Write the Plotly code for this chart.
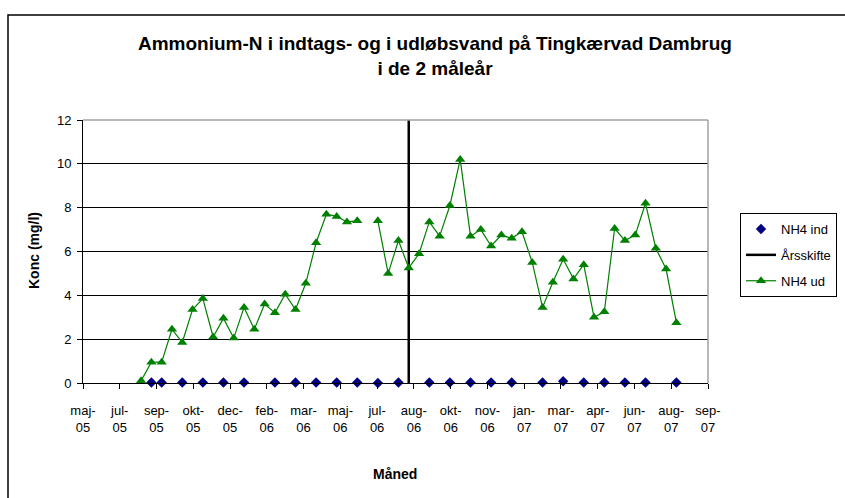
import plotly.graph_objects as go

# NH4 ud (outlet) - biweekly samples
ud_dates = ["2005-08-15", "2005-08-29", "2005-09-12", "2005-09-26", "2005-10-10", "2005-10-24",
            "2005-11-07", "2005-11-21", "2005-12-05", "2005-12-19", "2006-01-02", "2006-01-16",
            "2006-01-30", "2006-02-13", "2006-02-27", "2006-03-13", "2006-03-27", "2006-04-10",
            "2006-04-24", "2006-05-08", "2006-05-22", "2006-06-05", "2006-06-19", "2006-07-03",
            "2006-07-17", "2006-07-31", "2006-08-14", "2006-08-28", "2006-09-11", "2006-09-25",
            "2006-10-09", "2006-10-23", "2006-11-06", "2006-11-20", "2006-12-04", "2006-12-18",
            "2007-01-01", "2007-01-15", "2007-01-29", "2007-02-12", "2007-02-26", "2007-03-12",
            "2007-03-26", "2007-04-09", "2007-04-23", "2007-05-07", "2007-05-21", "2007-06-04",
            "2007-06-18", "2007-07-02", "2007-07-16", "2007-07-30", "2007-08-13"]
ud_values = [0.1, 0.95, 0.95, 2.45, 1.85, 3.35, 3.85, 2.1, 2.95, 2.05, 3.45, 2.45,
             3.6, 3.2, 4.05, 3.35, 4.55, 6.4, 7.7, 7.6, 7.35, 7.4, None, 7.4,
             5.0, 6.5, 5.25, 5.9, 7.35, 6.7, 8.1, 10.2, 6.7, 7.0, 6.25, 6.75,
             6.6, 6.9, 5.5, 3.45, 4.6, 5.65, 4.75, 5.4, 3.0, 3.25, 7.05, 6.5,
             6.75, 8.2, 6.15, 5.2, 2.75]

# NH4 ind (intake)
ind_dates = ["2005-08-29", "2005-09-12", "2005-10-10", "2005-11-07", "2005-12-05", "2006-01-02",
             "2006-02-13", "2006-03-13", "2006-04-10", "2006-05-08", "2006-06-05", "2006-07-03",
             "2006-07-31", "2006-09-11", "2006-10-09", "2006-11-06", "2006-12-04", "2007-01-01",
             "2007-02-12", "2007-03-12", "2007-04-09", "2007-05-07", "2007-06-04", "2007-07-02",
             "2007-08-13"]
ind_values = [0.02, 0.02, 0.02, 0.02, 0.02, 0.02, 0.02, 0.02, 0.02, 0.02, 0.02, 0.0,
              0.02, 0.02, 0.02, 0.02, 0.02, 0.02, 0.02, 0.08, 0.02, 0.02, 0.02, 0.02,
              0.02]

# Årsskifte (year change)
aar_dates = ["2006-08-14", "2006-08-14"]
aar_values = [0, 12]

tick_dates = ["2005-05-28", "2005-07-17", "2005-09-05", "2005-10-25", "2005-12-14", "2006-02-02",
              "2006-03-24", "2006-05-13", "2006-07-02", "2006-08-21", "2006-10-10", "2006-11-29",
              "2007-01-18", "2007-03-09", "2007-04-28", "2007-06-17", "2007-08-06", "2007-09-25"]
tick_labels = ["maj-<br>05", "jul-<br>05", "sep-<br>05", "okt-<br>05", "dec-<br>05", "feb-<br>06",
               "mar-<br>06", "maj-<br>06", "jul-<br>06", "aug-<br>06", "okt-<br>06", "nov-<br>06",
               "jan-<br>07", "mar-<br>07", "apr-<br>07", "jun-<br>07", "aug-<br>07", "sep-<br>07"]

FONT = "Liberation Sans, Arial, sans-serif"

# plot area at page px x 83..708, y 120..383
fig = go.Figure()
fig.add_trace(go.Scatter(x=ind_dates, y=ind_values, mode="markers", name="NH4 ind",
                         legendgroup="a",
                         marker=dict(symbol="diamond", size=8, color="#000080"),
                         cliponaxis=False))
fig.add_trace(go.Scatter(x=aar_dates, y=aar_values, mode="lines", name="Årsskifte",
                         legendgroup="b",
                         line=dict(color="black", width=2.5)))
fig.add_trace(go.Scatter(x=ud_dates, y=ud_values, mode="lines+markers", name="NH4 ud",
                         legendgroup="c", connectgaps=False,
                         line=dict(color="#008000", width=1.2),
                         marker=dict(symbol="triangle-up", size=9, color="#008000"),
                         cliponaxis=False))

fig.update_layout(
    width=845, height=498,
    margin=dict(l=83, r=137, t=120, b=115, autoexpand=False),
    paper_bgcolor="white", plot_bgcolor="white",
    font=dict(family=FONT, size=13, color="black"),
    showlegend=True,
    legend=dict(x=(740 - 83) / 625, y=(383 - 213) / 263, xanchor="left", yanchor="top",
                bordercolor="black", borderwidth=1, bgcolor="white",
                font=dict(size=13), traceorder="grouped", tracegroupgap=6),
    xaxis=dict(type="date", range=[tick_dates[0], tick_dates[-1]],
               tickmode="array", tickvals=tick_dates, ticktext=tick_labels,
               ticks="outside", ticklen=5, tickcolor="black",
               showline=True, linecolor="black", linewidth=1,
               showgrid=False, zeroline=False, ticklabelstandoff=10),
    yaxis=dict(range=[0, 12], tickvals=[0, 2, 4, 6, 8, 10, 12],
               ticks="outside", ticklen=5, tickcolor="black",
               showline=True, linecolor="black", linewidth=1,
               showgrid=True, gridcolor="black", gridwidth=1,
               zeroline=False, ticklabelstandoff=3),
    annotations=[
        dict(text="<b>Ammonium-N i indtags- og i udløbsvand på Tingkærvad Dambrug</b><br><b>i de 2 måleår</b>",
             xref="paper", yref="paper", x=(435 - 83) / 625, y=(383 - 56) / 263,
             xanchor="center", yanchor="middle", showarrow=False,
             font=dict(size=19, family=FONT)),
        dict(text="<b>Konc (mg/l)</b>", xref="paper", yref="paper",
             x=(34 - 83) / 625, y=(383 - 251) / 263, textangle=-90,
             xanchor="center", yanchor="middle", showarrow=False,
             font=dict(size=14, family=FONT)),
        dict(text="<b>Måned</b>", xref="paper", yref="paper",
             x=(395 - 83) / 625, y=(383 - 474) / 263,
             xanchor="center", yanchor="middle", showarrow=False,
             font=dict(size=14, family=FONT)),
    ],
    shapes=[
        dict(type="rect", xref="paper", yref="paper",
             x0=(8 - 83) / 625, x1=(860 - 83) / 625,
             y0=(383 - 515) / 263, y1=(383 - 15) / 263,
             line=dict(color="black", width=1.5), layer="below"),
        dict(type="line", xref="paper", yref="paper", x0=0, x1=1, y0=1, y1=1,
             line=dict(color="#a0a0a0", width=1.5)),
        dict(type="line", xref="paper", yref="paper", x0=1, x1=1, y0=0, y1=1,
             line=dict(color="#a0a0a0", width=1.5)),
    ],
)

fig.write_html("out.html", config={"displayModeBar": False, "staticPlot": True},
               post_script="document.body.style.margin='0';document.body.style.overflow='hidden';")
